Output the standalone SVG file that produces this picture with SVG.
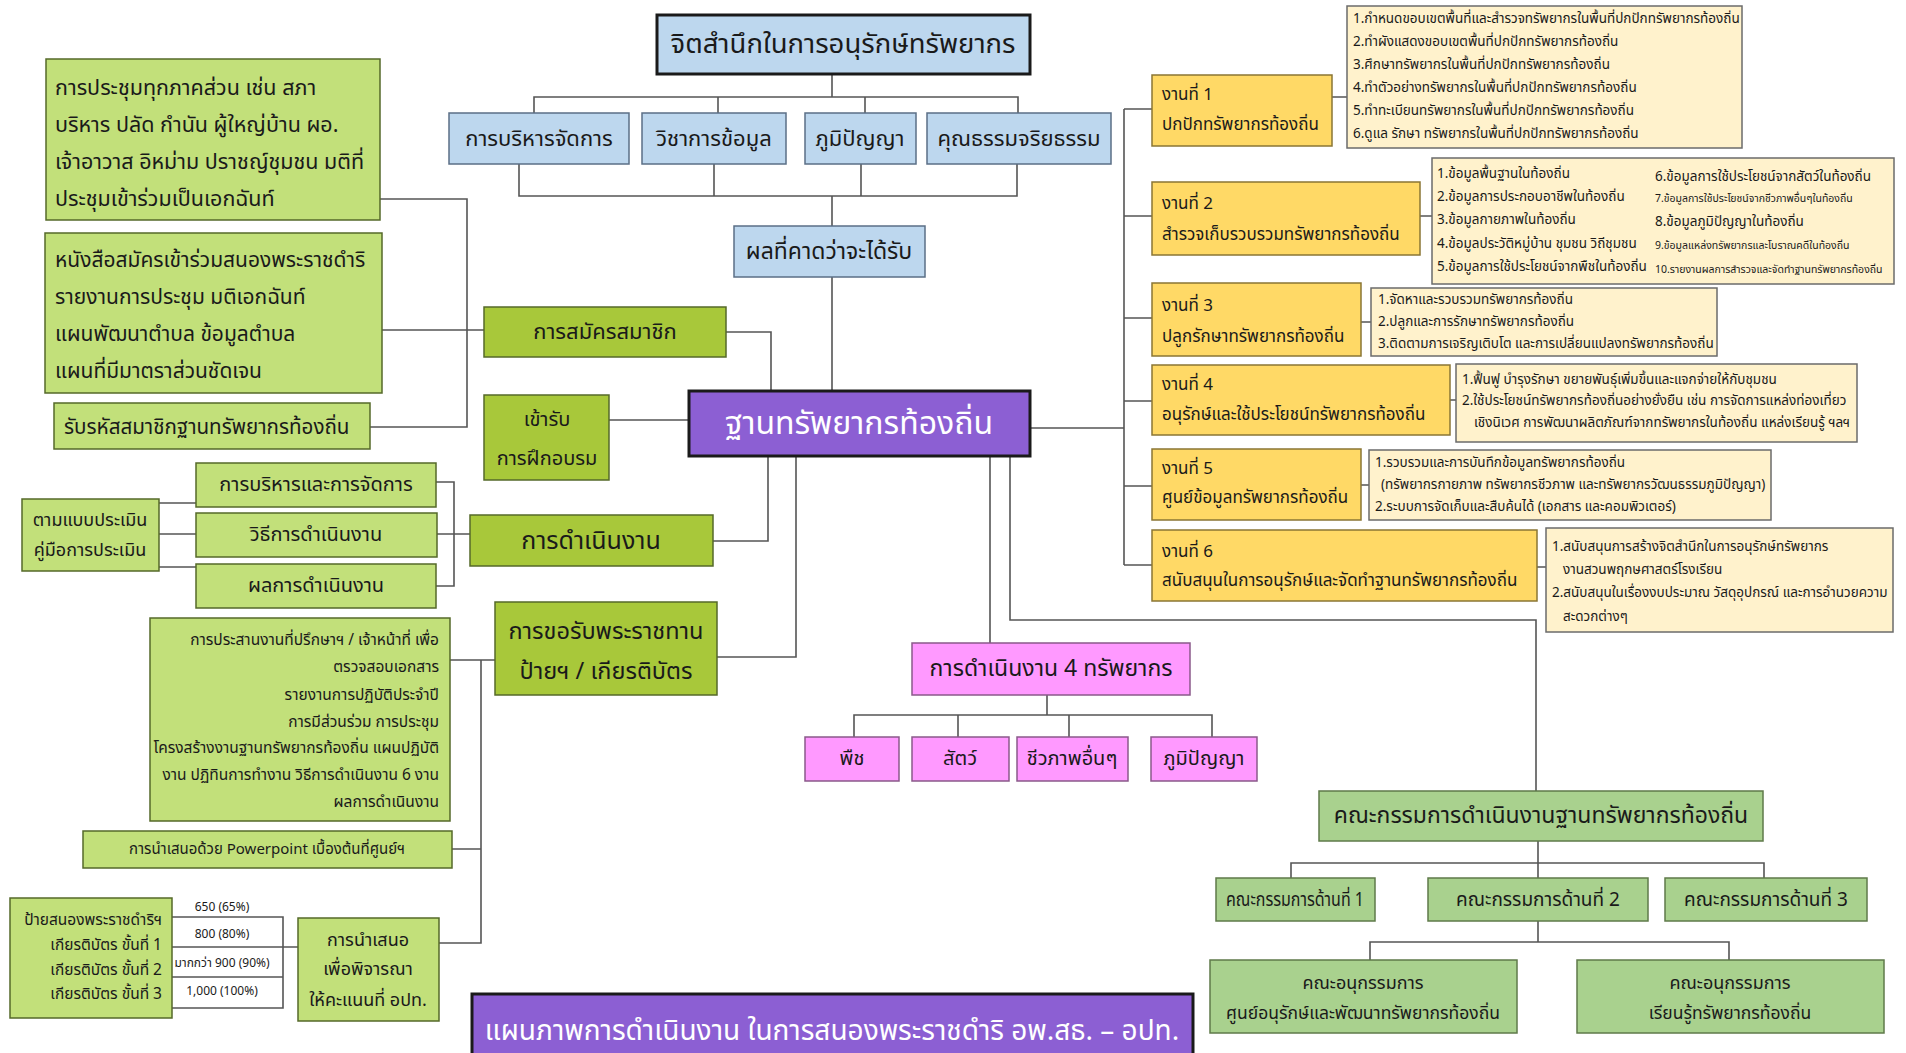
<svg xmlns="http://www.w3.org/2000/svg" width="1906" height="1053" viewBox="0 0 1906 1053">
<style>
text{font-family:"Noto Sans Thai","Noto Sans","DejaVu Sans",sans-serif;fill:#1a1a1a;dominant-baseline:central}
.c{text-anchor:middle}
.r{text-anchor:end}
.blue{fill:#bdd7ee;stroke:#5b6f86;stroke-width:1.5}
.title{fill:#bdd7ee;stroke:#1a1a1a;stroke-width:3}
.lime{fill:#a8c83a;stroke:#55692a;stroke-width:1.5}
.lgreen{fill:#c2e07a;stroke:#55692a;stroke-width:1.5}
.orange{fill:#ffd966;stroke:#8a7634;stroke-width:1.5}
.detail{fill:#fff2cc;stroke:#6b6b6b;stroke-width:1.5}
.purple{fill:#8c5fd3;stroke:#1a1a1a;stroke-width:3}
.pink{fill:#ff99ff;stroke:#8a5a8a;stroke-width:1.5}
.cgreen{fill:#a9d18e;stroke:#5f7a4a;stroke-width:1.5}
.w{fill:#ffffff}
.conn path{fill:none;stroke:#555;stroke-width:1.6}
.f13{font-size:13.5px}.f11{font-size:10.5px}.f12{font-size:12px}.f15{font-size:15.5px}.f17{font-size:17px}.f18{font-size:18px}.f20{font-size:20px}.f21{font-size:21px}.f22{font-size:22px}.f23{font-size:23px}
</style>

<g class="conn" id="connectors">
<path d="M832 75V97M534 113V97H1018V113M718 97V113M865 97V113"/>
<path d="M519 164V196H1017V164M714 164V196M861 164V196M832 196V226M832 277V391"/>
<path d="M726 332H771V391M609 420H689"/>
<path d="M380 199H467V427H370M382 330H484"/>
<path d="M159 503H196M159 534H196M159 567H196M436 482H454V586H436M437 534H470"/>
<path d="M713 541H768V456M717 657H796V456"/>
<path d="M450 660H495M481 660V943H439M452 849H481"/>
<path d="M172 917H283V1008H172M172 947H298M172 977H283"/>
<path d="M1030 428H1124M1124 109V565M1124 109H1152M1124 216H1152M1124 318H1152M1124 401H1152M1124 486H1152M1124 565H1152"/>
<path d="M1332 97H1347M1420 216H1432M1361 322H1371M1450 400H1456M1361 485H1369M1537 567H1546"/>
<path d="M990 456V643M1047 695V715M854 737V715H1212V737M958 715V737M1069 715V737"/>
<path d="M1010 456V620H1536V791"/>
<path d="M1538 841V863M1291 878V863H1764V878M1538 863V878M1538 921V942M1370 960V942H1729V960"/>
</g>

<g id="n-title"><rect class="title" x="657" y="15" width="373" height="59"/><text class="c" x="843" y="44" style="font-size:27.5px">จิตสำนึกในการอนุรักษ์ทรัพยากร</text></g>
<g id="n-admin"><rect class="blue" x="449" y="113" width="180" height="51"/><text class="c f22" x="539" y="139">การบริหารจัดการ</text></g>
<g id="n-academic"><rect class="blue" x="642" y="113" width="144" height="51"/><text class="c f22" x="714" y="139">วิชาการข้อมูล</text></g>
<g id="n-wisdom"><rect class="blue" x="805" y="113" width="111" height="51"/><text class="c f22" x="860" y="139">ภูมิปัญญา</text></g>
<g id="n-ethics"><rect class="blue" x="927" y="113" width="184" height="51"/><text class="c f22" x="1019" y="139">คุณธรรมจริยธรรม</text></g>
<g id="n-expected"><rect class="blue" x="734" y="226" width="191" height="51"/><text class="c f23" x="829" y="252">ผลที่คาดว่าจะได้รับ</text></g>
<g id="n-main"><rect class="purple" x="689" y="391" width="341" height="65"/><text class="c w" x="859" y="424" style="font-size:32px">ฐานทรัพยากรท้องถิ่น</text></g>

<g id="n-member"><rect class="lime" x="484" y="307" width="242" height="50"/><text class="c f22" x="605" y="332">การสมัครสมาชิก</text></g>
<g id="n-training"><rect class="lime" x="484" y="395" width="125" height="85"/><text class="c f20" x="547" y="420">เข้ารับ</text><text class="c f20" x="547" y="459">การฝึกอบรม</text></g>
<g id="n-meeting"><rect class="lgreen" x="46" y="59" width="334" height="161"/>
<text x="55" y="88" style="font-size:21.5px">การประชุมทุกภาคส่วน  เช่น สภา</text>
<text x="55" y="125" style="font-size:21.5px">บริหาร ปลัด กำนัน ผู้ใหญ่บ้าน ผอ.</text>
<text x="55" y="162" style="font-size:21.5px">เจ้าอาวาส อิหม่าม ปราชญ์ชุมชน มติที่</text>
<text x="55" y="199" style="font-size:21.5px">ประชุมเข้าร่วมเป็นเอกฉันท์</text></g>
<g id="n-docs"><rect class="lgreen" x="45" y="233" width="337" height="160"/>
<text class="f21" x="55" y="260">หนังสือสมัครเข้าร่วมสนองพระราชดำริ</text>
<text class="f21" x="55" y="297">รายงานการประชุม  มติเอกฉันท์</text>
<text class="f21" x="55" y="334">แผนพัฒนาตำบล  ข้อมูลตำบล</text>
<text class="f21" x="55" y="371">แผนที่มีมาตราส่วนชัดเจน</text></g>
<g id="n-code"><rect class="lgreen" x="54" y="403" width="316" height="46"/><text x="64" y="427" style="font-size:20.6px">รับรหัสสมาชิกฐานทรัพยากรท้องถิ่น</text></g>

<g id="n-eval"><rect class="lgreen" x="22" y="499" width="137" height="72"/><text class="c f18" x="90" y="520">ตามแบบประเมิน</text><text class="c f18" x="90" y="550">คู่มือการประเมิน</text></g>
<g id="n-manage"><rect class="lgreen" x="196" y="463" width="240" height="44"/><text class="c f20" x="316" y="485">การบริหารและการจัดการ</text></g>
<g id="n-method"><rect class="lgreen" x="196" y="513" width="241" height="44"/><text class="c f20" x="316" y="535">วิธีการดำเนินงาน</text></g>
<g id="n-result"><rect class="lgreen" x="196" y="564" width="240" height="44"/><text class="c f20" x="316" y="586">ผลการดำเนินงาน</text></g>
<g id="n-operation"><rect class="lime" x="470" y="515" width="243" height="51"/><text class="c" x="591" y="541" style="font-size:25px">การดำเนินงาน</text></g>
<g id="n-award"><rect class="lime" x="495" y="602" width="222" height="93"/><text class="c" x="606" y="632" style="font-size:23.5px">การขอรับพระราชทาน</text><text class="c" x="606" y="672" style="font-size:23.5px">ป้ายฯ / เกียรติบัตร</text></g>
<g id="n-coord"><rect class="lgreen" x="150" y="618" width="300" height="203"/>
<text class="r f15" x="439" y="640">การประสานงานที่ปรึกษาฯ / เจ้าหน้าที่ เพื่อ</text>
<text class="r f15" x="439" y="667">ตรวจสอบเอกสาร</text>
<text class="r f15" x="439" y="695">รายงานการปฏิบัติประจำปี</text>
<text class="r f15" x="439" y="722">การมีส่วนร่วม การประชุม</text>
<text class="r f15" x="439" y="748">โครงสร้างงานฐานทรัพยากรท้องถิ่น แผนปฏิบัติ</text>
<text class="r f15" x="439" y="775">งาน ปฏิทินการทำงาน วิธีการดำเนินงาน 6 งาน</text>
<text class="r f15" x="439" y="802">ผลการดำเนินงาน</text></g>
<g id="n-ppt"><rect class="lgreen" x="83" y="831" width="369" height="37"/><text class="c" x="267" y="849" style="font-size:15px">การนำเสนอด้วย Powerpoint เบื้องต้นที่ศูนย์ฯ</text></g>
<g id="n-plaque"><rect class="lgreen" x="10" y="898" width="162" height="120"/>
<text class="r f15" x="162" y="920">ป้ายสนองพระราชดำริฯ</text>
<text class="r f15" x="162" y="945">เกียรติบัตร ขั้นที่ 1</text>
<text class="r f15" x="162" y="970">เกียรติบัตร ขั้นที่ 2</text>
<text class="r f15" x="162" y="994">เกียรติบัตร ขั้นที่ 3</text></g>
<g id="n-scores"><text class="c f12" x="222" y="907">650 (65%)</text><text class="c f12" x="222" y="934">800 (80%)</text><text class="c f12" x="222" y="963">มากกว่า 900 (90%)</text><text class="c f12" x="222" y="991">1,000 (100%)</text></g>
<g id="n-present"><rect class="lgreen" x="298" y="918" width="141" height="103"/><text class="c f18" x="368" y="940">การนำเสนอ</text><text class="c f18" x="368" y="969">เพื่อพิจารณา</text><text class="c f18" x="368" y="1000">ให้คะแนนที่ อปท.</text></g>
<g id="n-bottomtitle"><rect class="purple" x="472" y="994" width="721" height="70"/><text class="c w" x="832" y="1031" style="font-size:28px">แผนภาพการดำเนินงาน ในการสนองพระราชดำริ อพ.สธ. – อปท.</text></g>

<g id="n-task1"><rect class="orange" x="1152" y="75" width="180" height="71"/><text class="f17" x="1162" y="95">งานที่ 1</text><text class="f17" x="1162" y="125">ปกปักทรัพยากรท้องถิ่น</text></g>
<g id="n-d1"><rect class="detail" x="1347" y="6" width="395" height="142"/>
<text class="f13" x="1353" y="19">1.กำหนดขอบเขตพื้นที่และสำรวจทรัพยากรในพื้นที่ปกปักทรัพยากรท้องถิ่น</text>
<text class="f13" x="1353" y="42">2.ทำผังแสดงขอบเขตพื้นที่ปกปักทรัพยากรท้องถิ่น</text>
<text class="f13" x="1353" y="65">3.ศึกษาทรัพยากรในพื้นที่ปกปักทรัพยากรท้องถิ่น</text>
<text class="f13" x="1353" y="88">4.ทำตัวอย่างทรัพยากรในพื้นที่ปกปักทรัพยากรท้องถิ่น</text>
<text class="f13" x="1353" y="111">5.ทำทะเบียนทรัพยากรในพื้นที่ปกปักทรัพยากรท้องถิ่น</text>
<text class="f13" x="1353" y="134">6.ดูแล รักษา ทรัพยากรในพื้นที่ปกปักทรัพยากรท้องถิ่น</text></g>
<g id="n-task2"><rect class="orange" x="1152" y="182" width="268" height="73"/><text class="f17" x="1162" y="204">งานที่ 2</text><text class="f17" x="1162" y="235">สำรวจเก็บรวบรวมทรัพยากรท้องถิ่น</text></g>
<g id="n-d2"><rect class="detail" x="1432" y="158" width="462" height="126"/>
<text class="f13" x="1437" y="174">1.ข้อมูลพื้นฐานในท้องถิ่น</text>
<text class="f13" x="1437" y="197">2.ข้อมูลการประกอบอาชีพในท้องถิ่น</text>
<text class="f13" x="1437" y="220">3.ข้อมูลกายภาพในท้องถิ่น</text>
<text class="f13" x="1437" y="244">4.ข้อมูลประวัติหมู่บ้าน ชุมชน วิถีชุมชน</text>
<text class="f13" x="1437" y="267">5.ข้อมูลการใช้ประโยชน์จากพืชในท้องถิ่น</text>
<text class="f13" x="1655" y="177">6.ข้อมูลการใช้ประโยชน์จากสัตว์ในท้องถิ่น</text>
<text class="f11" x="1655" y="199">7.ข้อมูลการใช้ประโยชน์จากชีวภาพอื่นๆในท้องถิ่น</text>
<text class="f13" x="1655" y="222">8.ข้อมูลภูมิปัญญาในท้องถิ่น</text>
<text class="f11" x="1655" y="246">9.ข้อมูลแหล่งทรัพยากรและโบราณคดีในท้องถิ่น</text>
<text class="f11" x="1655" y="270">10.รายงานผลการสำรวจและจัดทำฐานทรัพยากรท้องถิ่น</text></g>
<g id="n-task3"><rect class="orange" x="1152" y="283" width="209" height="73"/><text class="f17" x="1162" y="306">งานที่ 3</text><text class="f17" x="1162" y="337">ปลูกรักษาทรัพยากรท้องถิ่น</text></g>
<g id="n-d3"><rect class="detail" x="1371" y="288" width="346" height="68"/>
<text class="f13" x="1378" y="300">1.จัดหาและรวบรวมทรัพยากรท้องถิ่น</text>
<text class="f13" x="1378" y="322">2.ปลูกและการรักษาทรัพยากรท้องถิ่น</text>
<text class="f13" x="1378" y="344">3.ติดตามการเจริญเติบโต และการเปลี่ยนแปลงทรัพยากรท้องถิ่น</text></g>
<g id="n-task4"><rect class="orange" x="1152" y="365" width="298" height="70"/><text class="f17" x="1162" y="385">งานที่ 4</text><text class="f17" x="1162" y="415">อนุรักษ์และใช้ประโยชน์ทรัพยากรท้องถิ่น</text></g>
<g id="n-d4"><rect class="detail" x="1456" y="364" width="401" height="78"/>
<text class="f13" x="1462" y="380">1.ฟื้นฟู บำรุงรักษา ขยายพันธุ์เพิ่มขึ้นและแจกจ่ายให้กับชุมชน</text>
<text class="f13" x="1462" y="401">2.ใช้ประโยชน์ทรัพยากรท้องถิ่นอย่างยั่งยืน เช่น การจัดการแหล่งท่องเที่ยว</text>
<text class="f13" x="1474" y="423">เชิงนิเวศ การพัฒนาผลิตภัณฑ์จากทรัพยากรในท้องถิ่น แหล่งเรียนรู้ ฯลฯ</text></g>
<g id="n-task5"><rect class="orange" x="1152" y="449" width="209" height="71"/><text class="f17" x="1162" y="469">งานที่ 5</text><text class="f17" x="1162" y="498">ศูนย์ข้อมูลทรัพยากรท้องถิ่น</text></g>
<g id="n-d5"><rect class="detail" x="1369" y="450" width="402" height="70"/>
<text class="f13" x="1375" y="463">1.รวบรวมและการบันทึกข้อมูลทรัพยากรท้องถิ่น</text>
<text class="f13" x="1381" y="485">(ทรัพยากรกายภาพ ทรัพยากรชีวภาพ และทรัพยากรวัฒนธรรมภูมิปัญญา)</text>
<text class="f13" x="1375" y="507">2.ระบบการจัดเก็บและสืบค้นได้ (เอกสาร และคอมพิวเตอร์)</text></g>
<g id="n-task6"><rect class="orange" x="1152" y="530" width="385" height="71"/><text class="f17" x="1162" y="552">งานที่ 6</text><text class="f17" x="1162" y="581">สนับสนุนในการอนุรักษ์และจัดทำฐานทรัพยากรท้องถิ่น</text></g>
<g id="n-d6"><rect class="detail" x="1546" y="528" width="347" height="104"/>
<text class="f13" x="1552" y="547">1.สนับสนุนการสร้างจิตสำนึกในการอนุรักษ์ทรัพยากร</text>
<text class="f13" x="1563" y="570">งานสวนพฤกษศาสตร์โรงเรียน</text>
<text class="f13" x="1552" y="593">2.สนับสนุนในเรื่องงบประมาณ วัสดุอุปกรณ์ และการอำนวยความ</text>
<text class="f13" x="1563" y="617">สะดวกต่างๆ</text></g>

<g id="n-four"><rect class="pink" x="912" y="643" width="278" height="52"/><text class="c f23" x="1051" y="669">การดำเนินงาน 4 ทรัพยากร</text></g>
<g id="n-plant"><rect class="pink" x="805" y="737" width="94" height="44"/><text class="c f20" x="852" y="759">พืช</text></g>
<g id="n-animal"><rect class="pink" x="912" y="737" width="97" height="44"/><text class="c f20" x="960" y="759">สัตว์</text></g>
<g id="n-bio"><rect class="pink" x="1017" y="737" width="111" height="44"/><text class="c f20" x="1072" y="759">ชีวภาพอื่นๆ</text></g>
<g id="n-wisdom2"><rect class="pink" x="1151" y="737" width="106" height="44"/><text class="c f20" x="1204" y="759">ภูมิปัญญา</text></g>

<g id="n-committee"><rect class="cgreen" x="1319" y="791" width="444" height="50"/><text class="c f23" x="1541" y="816">คณะกรรมการดำเนินงานฐานทรัพยากรท้องถิ่น</text></g>
<g id="n-c1"><rect class="cgreen" x="1216" y="878" width="159" height="43"/><text class="c" x="1295" y="900" style="font-size:19px" textLength="138" lengthAdjust="spacingAndGlyphs">คณะกรรมการด้านที่ 1</text></g>
<g id="n-c2"><rect class="cgreen" x="1428" y="878" width="220" height="43"/><text class="c" x="1538" y="900" style="font-size:19px">คณะกรรมการด้านที่ 2</text></g>
<g id="n-c3"><rect class="cgreen" x="1665" y="878" width="202" height="43"/><text class="c" x="1766" y="900" style="font-size:19px">คณะกรรมการด้านที่ 3</text></g>
<g id="n-sub1"><rect class="cgreen" x="1210" y="960" width="307" height="73"/><text class="c f18" x="1363" y="983">คณะอนุกรรมการ</text><text class="c" x="1363" y="1013" style="font-size:17.5px">ศูนย์อนุรักษ์และพัฒนาทรัพยากรท้องถิ่น</text></g>
<g id="n-sub2"><rect class="cgreen" x="1577" y="960" width="307" height="73"/><text class="c f18" x="1730" y="983">คณะอนุกรรมการ</text><text class="c" x="1730" y="1013" style="font-size:17.5px">เรียนรู้ทรัพยากรท้องถิ่น</text></g>
</svg>
